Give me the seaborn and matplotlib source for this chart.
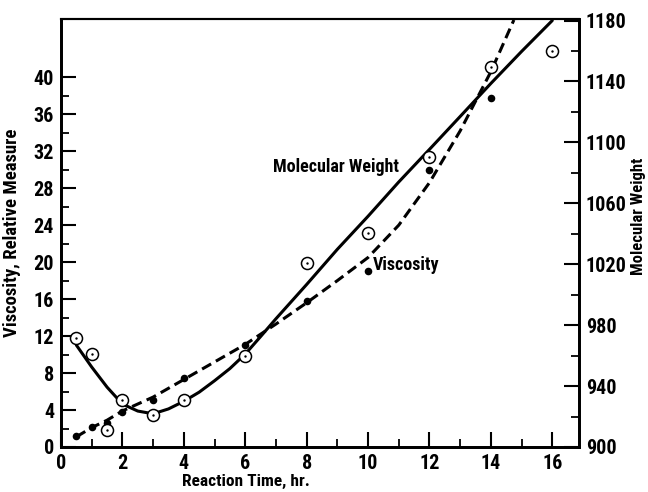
import matplotlib
matplotlib.use("Agg")
import matplotlib.pyplot as plt
from matplotlib.ticker import FixedLocator
import seaborn as sns

# observed points (circled = molecular weight, filled = viscosity)
hours = [0.5, 1, 1.5, 2, 3, 4, 6, 8, 10, 12, 14, 16]
mw_obs = [971.7, 961.2, 911.1, 930.6, 921.2, 930.6, 959.7, 1020.9, 1040.5, 1090.4, 1149.8, 1159.7]
visc_hours = [0.5, 1, 1.5, 2, 3, 4, 6, 8, 10, 12, 14]
visc_obs = [1.2, 2.2, 2.6, 3.8, 5.05, 7.5, 11.0, 15.8, 19.0, 30.0, 37.8]

# fitted curves
mw_curve_t = [0.5, 1, 1.5, 2, 2.5, 3, 3.5, 4, 4.5, 5, 5.5, 6, 6.5, 7, 8, 9, 10, 11, 12, 13,
              14, 15, 16]
mw_curve = [966.9, 952.5, 939.3, 928.2, 923.6, 921.8, 925.0, 930.0, 936.0, 943.5, 951.5,
            961.0, 972.5, 984.2, 1006.7, 1029.8, 1051.5, 1074.0, 1095.4, 1117.0, 1138.7,
            1159.7, 1180.0]
visc_curve_t = [0.5, 1, 1.5, 2, 3, 4, 5, 6, 7, 8, 9, 10, 11, 12, 13, 14, 14.75]
visc_curve = [1.1, 2.1, 2.9, 3.9, 5.4, 7.3, 9.2, 11.1, 13.3, 15.6, 18.0, 20.5, 24.0,
              28.6, 34.2, 40.6, 46.2]

sns.set_style("white")
plt.rcParams['font.family'] = ['Roboto Condensed', 'Liberation Sans Narrow', 'DejaVu Sans']
plt.rcParams['font.stretch'] = 'condensed'
plt.rcParams['font.weight'] = 'bold'
for key in ('text.color', 'axes.labelcolor', 'xtick.color', 'ytick.color'):
    plt.rcParams[key] = 'black'

fig = plt.figure(figsize=(6.48, 4.92), dpi=100)
ax = fig.add_axes([61 / 648, 45 / 492, 518 / 648, 428 / 492])
ax2 = ax.twinx()

# molecular weight (right axis)
sns.lineplot(x=mw_curve_t, y=mw_curve, ax=ax2, color='black', linewidth=2.2, sort=False)
sns.scatterplot(x=hours, y=mw_obs, ax=ax2, marker='o', s=75, facecolor='white',
                edgecolor='black', linewidth=1.1, zorder=5)
sns.scatterplot(x=hours, y=mw_obs, ax=ax2, marker='o', s=3, color='black',
                linewidth=0, zorder=6)

# viscosity (left axis)
sns.lineplot(x=visc_curve_t, y=visc_curve, ax=ax, color='black', linewidth=2.2, sort=False)
ax.lines[-1].set_dashes([3.4, 1.8])
sns.scatterplot(x=visc_hours, y=visc_obs, ax=ax, marker='o', s=30, color='black',
                linewidth=0, zorder=5)

ax.set_xlim(0, 16.87)
ax.set_ylim(0, 46.3)
ax2.set_ylim(900, 1181)

ax.xaxis.set_major_locator(FixedLocator(range(0, 17, 2)))
ax.xaxis.set_minor_locator(FixedLocator(range(1, 17, 2)))
ax.yaxis.set_major_locator(FixedLocator(range(0, 41, 4)))
ax.yaxis.set_minor_locator(FixedLocator(range(2, 40, 4)))
ax2.yaxis.set_major_locator(FixedLocator(range(900, 1181, 40)))
ax2.yaxis.set_minor_locator(FixedLocator(range(920, 1180, 40)))

ax.tick_params(axis='both', which='major', direction='in', length=11, width=1.5,
               labelsize=14.5, pad=5, right=False, top=False, left=True, bottom=True)
ax.tick_params(axis='both', which='minor', direction='in', length=6, width=1.3,
               right=False, top=False, left=True, bottom=True)
ax2.tick_params(axis='y', which='major', direction='in', length=11, width=1.5,
                labelsize=14.5, pad=5)
ax2.tick_params(axis='y', which='minor', direction='in', length=6, width=1.3)

for a in (ax, ax2):
    for side in ('left', 'right', 'bottom'):
        a.spines[side].set_linewidth(2)
        a.spines[side].set_color('black')
    a.spines['top'].set_linewidth(1.5)
    a.spines['top'].set_color('black')

ax.set_xlabel('Reaction Time, hr.', fontsize=12.5, fontweight='bold')
ax.xaxis.set_label_coords(0.357, -0.063)
ax.set_ylabel('Viscosity, Relative Measure', fontsize=13.5, fontweight='bold')
ax.yaxis.set_label_coords(-0.078, 0.5)
ax2.set_ylabel('Molecular Weight', fontsize=12, fontweight='bold', rotation=90)
ax2.yaxis.set_label_coords(1.100, 0.54)

ax.text(6.9, 30.3, 'Molecular Weight', fontsize=13, fontweight='bold', va='center', ha='left')
ax.text(10.15, 19.7, 'Viscosity', fontsize=13, fontweight='bold', va='center', ha='left')

fig.savefig('out.png', dpi=100)
